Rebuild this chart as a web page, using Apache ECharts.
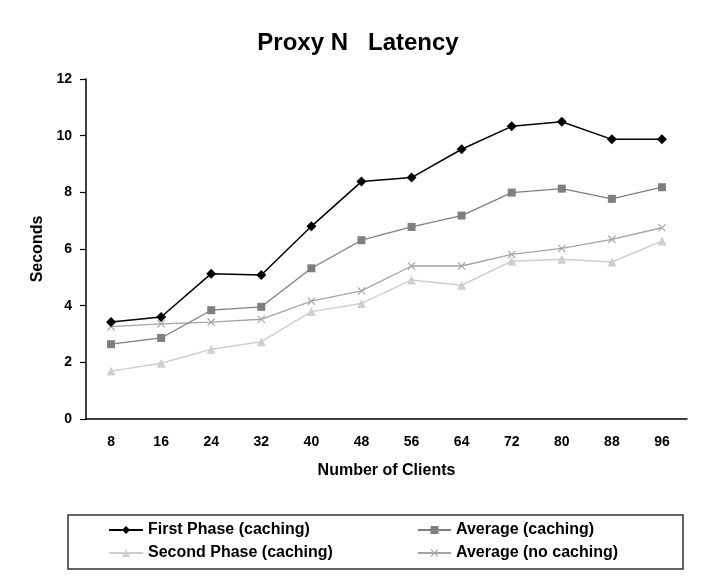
<!DOCTYPE html>
<html>
<head>
<meta charset="utf-8">
<script src="https://cdn.jsdelivr.net/npm/echarts@6/dist/echarts.min.js"></script>
<style>
html,body{margin:0;padding:0;background:#fff;}
#c{width:713px;height:577px;}
</style>
</head>
<body>
<div id="c"></div>
<script>
const clients = ['8','16','24','32','40','48','56','64','72','80','88','96'];
const firstPhase = [3.42,3.60,5.13,5.08,6.80,8.38,8.52,9.52,10.33,10.49,9.87,9.87];
const avgCaching = [2.64,2.86,3.84,3.96,5.32,6.31,6.78,7.18,7.99,8.13,7.77,8.18];
const secondPhase = [1.69,1.97,2.46,2.73,3.79,4.08,4.91,4.72,5.57,5.64,5.54,6.28];
const avgNoCaching = [3.26,3.36,3.42,3.52,4.16,4.52,5.40,5.40,5.81,6.02,6.34,6.75];
const yTicks = [0,2,4,6,8,10,12];

const FONT = '"Liberation Sans", Arial, sans-serif';
const xPath = 'path://M0,1 L1,0 L5,4 L9,0 L10,1 L6,5 L10,9 L9,10 L5,6 L1,10 L0,9 L4,5 Z';

const chart = echarts.init(document.getElementById('c'), null, {renderer:'canvas'});
chart.setOption({
  backgroundColor:'#fff',
  animation:false,
  title:{
    text:'Proxy N   Latency',
    left:353, top:26, textAlign:'center',
    textStyle:{fontFamily:FONT, fontWeight:'bold', fontSize:24, color:'#000'}
  },
  grid:{left:86, right:26, top:79, bottom:158},
  xAxis:{
    type:'category',
    data:clients,
    name:'Number of Clients',
    nameLocation:'middle',
    nameGap:44,
    nameTextStyle:{fontFamily:FONT, fontWeight:'bold', fontSize:16, color:'#000'},
    axisLine:{lineStyle:{color:'#000', width:1.5}},
    axisTick:{length:6, lineStyle:{color:'#000', width:1.2}},
    axisLabel:{fontFamily:FONT, fontWeight:'bold', fontSize:14, color:'#000', margin:16},
    splitLine:{show:false}
  },
  yAxis:{
    type:'value',
    min:yTicks[0], max:yTicks[yTicks.length-1], interval:2,
    name:'Seconds',
    nameLocation:'middle',
    nameGap:39,
    nameRotate:90,
    nameTextStyle:{fontFamily:FONT, fontWeight:'bold', fontSize:16, color:'#000'},
    axisLine:{show:true, lineStyle:{color:'#000', width:1.5}},
    axisTick:{show:true, length:6, lineStyle:{color:'#000', width:1.2}},
    axisLabel:{fontFamily:FONT, fontWeight:'bold', fontSize:14, color:'#000', margin:14},
    splitLine:{show:false}
  },
  legend:[
    {
      orient:'vertical', left:108, top:522, itemGap:7, padding:0,
      itemWidth:34, itemHeight:10,
      data:['First Phase (caching)','Second Phase (caching)'],
      textStyle:{fontFamily:FONT, fontWeight:'bold', fontSize:16, color:'#000'}
    },
    {
      orient:'vertical', left:417, top:522, itemGap:7, padding:0,
      itemWidth:33, itemHeight:10,
      data:['Average (caching)','Average (no caching)'],
      textStyle:{fontFamily:FONT, fontWeight:'bold', fontSize:16, color:'#000'}
    }
  ],
  graphic:[{
    type:'rect',
    shape:{x:68, y:515, width:615, height:54},
    style:{fill:'none', stroke:'#333', lineWidth:1.5},
    silent:true
  }],
  series:[
    {
      name:'First Phase (caching)', type:'line', data:firstPhase,
      symbol:'diamond', symbolSize:10,
      itemStyle:{color:'#000'}, lineStyle:{color:'#000', width:1.5}, z:5
    },
    {
      name:'Average (caching)', type:'line', data:avgCaching,
      symbol:'rect', symbolSize:8,
      itemStyle:{color:'#7f7f7f'}, lineStyle:{color:'#7f7f7f', width:1.3}, z:4
    },
    {
      name:'Second Phase (caching)', type:'line', data:secondPhase,
      symbol:'triangle', symbolSize:9,
      itemStyle:{color:'#cfcfcf'}, lineStyle:{color:'#cfcfcf', width:1.5}, z:2
    },
    {
      name:'Average (no caching)', type:'line', data:avgNoCaching,
      symbol:xPath, symbolSize:8,
      itemStyle:{color:'#a4a4a4'}, lineStyle:{color:'#a4a4a4', width:1.3}, z:3
    }
  ]
});
</script>
</body>
</html>
